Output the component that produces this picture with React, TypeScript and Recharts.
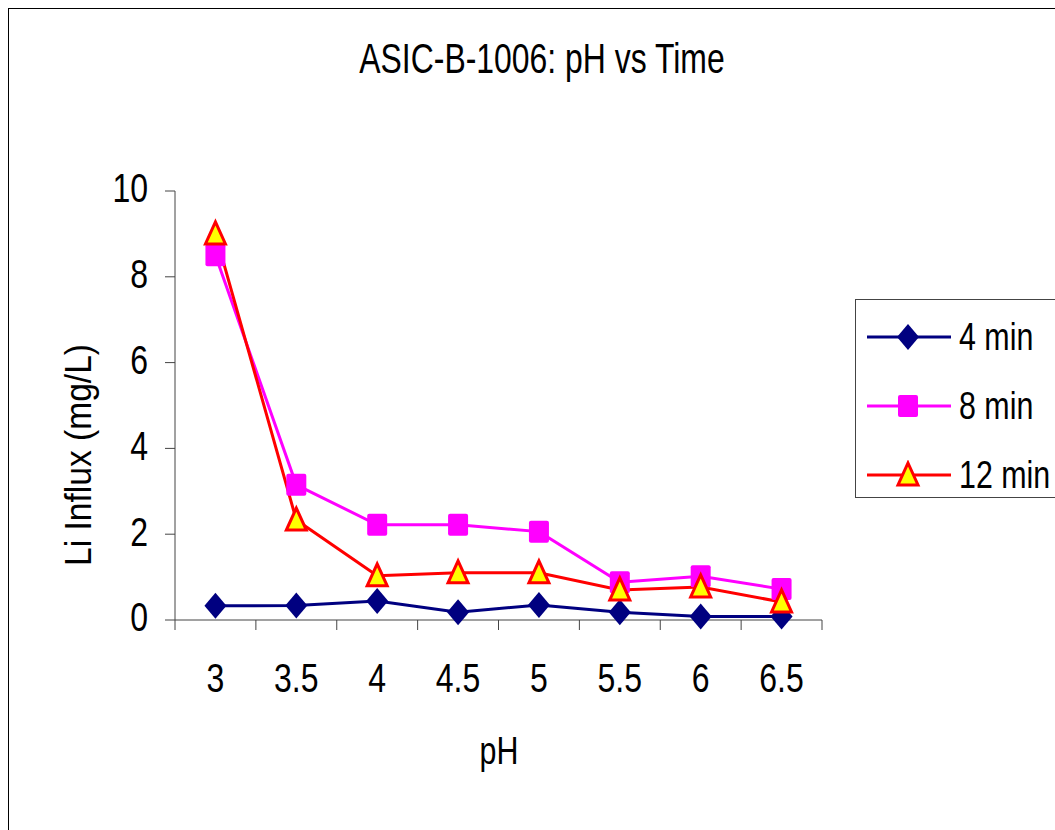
import { LineChart, Line, XAxis, YAxis, Legend } from "recharts";

const CATEGORIES = ["3", "3.5", "4", "4.5", "5", "5.5", "6", "6.5"];
const MIN_4 = [0.33, 0.34, 0.44, 0.18, 0.35, 0.18, 0.08, 0.08];
const MIN_8 = [8.5, 3.15, 2.22, 2.22, 2.06, 0.88, 1.02, 0.72];
const MIN_12 = [9.0, 2.33, 1.03, 1.1, 1.1, 0.7, 0.77, 0.42];
const Y_TICKS = [0, 2, 4, 6, 8, 10];

const FONT = "'Liberation Sans', Arial, sans-serif";
const SQUEEZE = 0.8;

const CHART_W = 1046;
const CHART_H = 821;
const MARGIN = { top: 182, right: 233, bottom: 140, left: 106 };
const Y_AXIS_W = 60;
const X_AXIS_H = 70;
const PLOT_W = CHART_W - MARGIN.left - MARGIN.right - Y_AXIS_W;
const HALF_BAND = PLOT_W / CATEGORIES.length / 2;

const SERIES = [
  { key: "m4", name: "4 min", color: "#000080", marker: "diamond" },
  { key: "m8", name: "8 min", color: "#FF00FF", marker: "square" },
  { key: "m12", name: "12 min", color: "#FF0000", marker: "triangle" },
];

const data = CATEGORIES.map((ph, i) => ({
  ph,
  m4: MIN_4[i],
  m8: MIN_8[i],
  m12: MIN_12[i],
}));

function Marker({ kind, cx, cy }: { kind: string; cx: number; cy: number }) {
  if (kind === "diamond") {
    return (
      <polygon
        points={`${cx},${cy - 13} ${cx + 11},${cy} ${cx},${cy + 13} ${cx - 11},${cy}`}
        fill="#000080"
      />
    );
  }
  if (kind === "square") {
    return <rect x={cx - 10} y={cy - 11} width={20} height={22} rx={2} fill="#FF00FF" />;
  }
  return (
    <polygon
      points={`${cx},${cy - 12} ${cx + 10},${cy + 10} ${cx - 10},${cy + 10}`}
      fill="#FFFF00"
      stroke="#FF0000"
      strokeWidth={3}
      strokeLinejoin="miter"
    />
  );
}

const makeDot = (kind: string) => (props: any) => {
  if (props.cx == null || props.cy == null) return <g key={props.index} />;
  return (
    <g key={`${kind}-${props.index}`}>
      <Marker kind={kind} cx={props.cx} cy={props.cy} />
    </g>
  );
};

function XTick({ x, y, payload, index }: any) {
  return (
    <g>
      <line x1={x - HALF_BAND} x2={x - HALF_BAND} y1={y} y2={y + 10} stroke="#444" />
      {index === CATEGORIES.length - 1 && (
        <line x1={x + HALF_BAND} x2={x + HALF_BAND} y1={y} y2={y + 10} stroke="#444" />
      )}
      <text
        transform={`translate(${x},${y + 72}) scale(${SQUEEZE},1)`}
        textAnchor="middle"
        fontSize={40}
        fontFamily={FONT}
        fill="#000"
      >
        {payload.value}
      </text>
    </g>
  );
}

function YTick({ x, y, payload }: any) {
  return (
    <text
      transform={`translate(${x},${y - 3}) scale(${SQUEEZE},1)`}
      textAnchor="end"
      dy="0.36em"
      fontSize={40}
      fontFamily={FONT}
      fill="#000"
    >
      {payload.value}
    </text>
  );
}

function LegendBox() {
  return (
    <div
      style={{
        width: 230,
        height: 199,
        boxSizing: "border-box",
        border: "1px solid #444",
        background: "#fff",
        paddingTop: 2,
        fontFamily: FONT,
      }}
    >
      {SERIES.map((s) => (
        <div key={s.key} style={{ height: 69, display: "flex", alignItems: "center" }}>
          <svg width={96} height={30} style={{ display: "block" }}>
            <line x1={11} x2={95} y1={15} y2={15} stroke={s.color} strokeWidth={3} />
            <Marker kind={s.marker} cx={52} cy={15} />
          </svg>
          <span
            style={{
              fontSize: 38,
              lineHeight: "38px",
              color: "#000",
              marginLeft: 7,
              display: "inline-block",
              transform: `scaleX(${SQUEEZE})`,
              transformOrigin: "left center",
              whiteSpace: "nowrap",
            }}
          >
            {s.name}
          </span>
        </div>
      ))}
    </div>
  );
}

export default function App() {
  return (
    <div
      style={{
        position: "absolute",
        left: 8,
        top: 8,
        width: 1047,
        height: 822,
        boxSizing: "border-box",
        borderLeft: "1px solid #000",
        borderTop: "1px solid #000",
        overflow: "hidden",
        background: "#fff",
        fontFamily: FONT,
      }}
    >
      <div
        style={{
          position: "absolute",
          left: 233,
          width: 600,
          top: 29,
          textAlign: "center",
          fontSize: 42,
          lineHeight: "42px",
          color: "#000",
          transform: "scaleX(0.76)",
          whiteSpace: "nowrap",
        }}
      >
        ASIC-B-1006: pH vs Time
      </div>
      <LineChart width={CHART_W} height={CHART_H} data={data} margin={MARGIN}>
        <XAxis
          dataKey="ph"
          height={X_AXIS_H}
          padding={{ left: HALF_BAND, right: HALF_BAND }}
          axisLine={{ stroke: "#444" }}
          tickLine={false}
          tickSize={0}
          tickMargin={0}
          interval={0}
          tick={<XTick />}
          label={{
            content: () => (
              <text
                transform={`translate(490,755) scale(${SQUEEZE},1)`}
                textAnchor="middle"
                fontSize={38}
                fontFamily={FONT}
                fill="#000"
              >
                pH
              </text>
            ),
          }}
        />
        <YAxis
          width={Y_AXIS_W}
          domain={[0, 10]}
          ticks={Y_TICKS}
          interval={0}
          axisLine={{ stroke: "#444" }}
          tickLine={{ stroke: "#444" }}
          tickSize={10}
          tickMargin={17}
          tick={<YTick />}
          label={{
            content: () => (
              <text
                transform="translate(69,446) rotate(-90)"
                textAnchor="middle"
                dominantBaseline="central"
                fontSize={37}
                fontFamily={FONT}
                textLength={222}
                lengthAdjust="spacingAndGlyphs"
                fill="#000"
              >
                Li Influx (mg/L)
              </text>
            ),
          }}
        />
        <Legend
          layout="vertical"
          align="center"
          verticalAlign="middle"
          content={<LegendBox />}
          wrapperStyle={{ left: 846, top: 290, width: 230 }}
        />
        {SERIES.map((s) => (
          <Line
            key={s.key}
            type="linear"
            dataKey={s.key}
            name={s.name}
            stroke={s.color}
            strokeWidth={3}
            dot={makeDot(s.marker)}
            activeDot={false}
            isAnimationActive={false}
          />
        ))}
      </LineChart>
    </div>
  );
}
